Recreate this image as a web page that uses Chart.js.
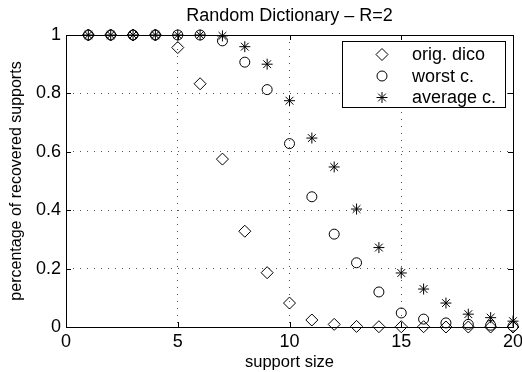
<!DOCTYPE html>
<html><head><meta charset="utf-8">
<script src="https://cdn.jsdelivr.net/npm/chart.js@4/dist/chart.umd.min.js"></script>
<style>html,body{margin:0;padding:0;background:#fff}#wrap{width:522px;height:372px;position:relative}</style>
</head><body><div id="wrap"><canvas id="c" width="522" height="372"></canvas></div>
<script>
const supportSize = [1,2,3,4,5,6,7,8,9,10,11,12,13,14,15,16,17,18,19,20];
const origDico    = [1,1,1,1,0.957,0.833,0.575,0.328,0.186,0.082,0.024,0.009,0.002,0.001,0.001,0.001,0,0,0,0];
const worstCase   = [1,1,1,1,1,1,0.98,0.907,0.813,0.628,0.446,0.318,0.22,0.12,0.048,0.027,0.014,0.009,0.006,0.003];
const averageCase = [1,1,1,1,1,1,0.997,0.96,0.9,0.775,0.647,0.548,0.404,0.272,0.185,0.13,0.082,0.044,0.032,0.02];
const seriesNames = ['orig. dico', 'worst c.', 'average c.'];
const xTicks = [0,5,10,15,20];
const yTicks = [0,0.2,0.4,0.6,0.8,1];
const titleText = 'Random Dictionary \u2013 R=2';
const xLabel = 'support size';
const yLabel = 'percentage of recovered supports';

const FONT = "'Liberation Sans', Arial, Helvetica, sans-serif";
const styles = [
  {pointStyle:'rectRot', radius:6},
  {pointStyle:'circle', radius:5},
  {pointStyle:'star', radius:5.5}
];
const seriesValues = [origDico, worstCase, averageCase];

function mkData(vals){ return supportSize.map((x,i)=>({x:x, y:vals[i]})); }

function drawMarker(ctx, st, x, y){
  ctx.save();
  ctx.strokeStyle = '#000'; ctx.fillStyle = 'rgba(0,0,0,0)'; ctx.lineWidth = 1;
  if (Chart.helpers && Chart.helpers.drawPoint) {
    Chart.helpers.drawPoint(ctx, {pointStyle: st.pointStyle, radius: st.radius, rotation: 0, borderWidth: 1}, x, y);
  }
  ctx.restore();
}

const boxPlugin = {
  id: 'box',
  beforeDatasetsDraw(chart){
    const {ctx, chartArea: a, scales} = chart;
    ctx.save();
    ctx.strokeStyle = '#000'; ctx.lineWidth = 1;
    ctx.strokeRect(Math.round(a.left)+0.5, Math.round(a.top)+0.5, Math.round(a.right-a.left), Math.round(a.bottom-a.top));
    const L = 5;
    ctx.beginPath();
    xTicks.forEach(v=>{
      const px = Math.round(scales.x.getPixelForValue(v))+0.5;
      ctx.moveTo(px, a.bottom); ctx.lineTo(px, a.bottom - L);
      ctx.moveTo(px, a.top); ctx.lineTo(px, a.top + L);
    });
    yTicks.forEach(v=>{
      const py = Math.round(scales.y.getPixelForValue(v))+0.5;
      ctx.moveTo(a.left, py); ctx.lineTo(a.left + L, py);
      ctx.moveTo(a.right, py); ctx.lineTo(a.right - L, py);
    });
    ctx.stroke();
    ctx.restore();
  },
  afterDatasetsDraw(chart){
    const {ctx, chartArea: a} = chart;
    const w = 163, h = 66;
    const right = a.right - 8, top = a.top + 6;
    const left = right - w;
    ctx.save();
    ctx.fillStyle = '#fff';
    ctx.fillRect(left, top, w, h);
    ctx.strokeStyle = '#000'; ctx.lineWidth = 1;
    ctx.strokeRect(Math.round(left)+0.5, Math.round(top)+0.5, w, h);
    const rows = [13.5, 35, 56.5];
    ctx.font = '18px ' + FONT;
    ctx.textBaseline = 'middle';
    ctx.textAlign = 'left';
    seriesNames.forEach((name,i)=>{
      drawMarker(ctx, styles[i], left + 40, top + rows[i]);
      ctx.fillStyle = '#000';
      ctx.fillText(name, left + 70, top + rows[i] + 1);
    });
    ctx.restore();
  }
};

const gridColor = (ctx) => {
  const v = ctx.tick && ctx.tick.value;
  return (v === 0 || v === 20 || v === 1) ? 'rgba(0,0,0,0)' : '#555';
};

new Chart(document.getElementById('c'), {
  type: 'scatter',
  data: {
    datasets: seriesValues.map((vals,i)=>({
      label: seriesNames[i],
      data: mkData(vals),
      pointStyle: styles[i].pointStyle,
      pointRadius: styles[i].radius,
      pointHoverRadius: styles[i].radius,
      borderColor: '#000',
      backgroundColor: 'rgba(0,0,0,0)',
      pointBorderWidth: 1,
      borderWidth: 1,
      showLine: false,
      clip: false
    }))
  },
  options: {
    responsive: false,
    animation: false,
    events: [],
    layout: {padding: {left: 0, right: 9, top: 0, bottom: 0}},
    plugins: {legend: {display: false}, tooltip: {enabled: false}, title: {display: false}},
    scales: {
      x: {
        type: 'linear', position: 'bottom', min: 0, max: 20,
        afterBuildTicks: s => { s.ticks = xTicks.map(v=>({value: v})); },
        afterFit: s => { s.height = 45; s.paddingLeft = 0; s.paddingRight = 0; },
        ticks: {font: {family: FONT, size: 18}, color: '#000', padding: 4, maxRotation: 0, callback: v => String(v)},
        grid: {color: gridColor, lineWidth: 1, drawTicks: false},
        border: {display: false, dash: [1, 6]},
        title: {display: true, text: xLabel, font: {family: FONT, size: 16.5}, color: '#000', padding: {top: 0, bottom: 0}}
      },
      xTop: {
        type: 'linear', position: 'top', min: 0, max: 20,
        afterFit: s => { s.height = 35; s.paddingLeft = 0; s.paddingRight = 0; },
        ticks: {display: false},
        grid: {display: false, drawTicks: false},
        border: {display: false},
        title: {display: true, text: titleText, font: {family: FONT, size: 18}, color: '#000', padding: {top: 5, bottom: 0}}
      },
      y: {
        type: 'linear', position: 'left', min: 0, max: 1,
        afterBuildTicks: s => { s.ticks = yTicks.map(v=>({value: v})); },
        afterFit: s => { s.width = 66; s.paddingTop = 0; s.paddingBottom = 0; },
        ticks: {font: {family: FONT, size: 18}, color: '#000', padding: 5, callback: v => String(v)},
        grid: {color: gridColor, lineWidth: 1, drawTicks: false},
        border: {display: false, dash: [1, 6]},
        title: {display: true, text: yLabel, font: {family: FONT, size: 16}, color: '#000', padding: {top: 7, bottom: 0}}
      }
    }
  },
  plugins: [boxPlugin]
});
</script>
</body></html>
